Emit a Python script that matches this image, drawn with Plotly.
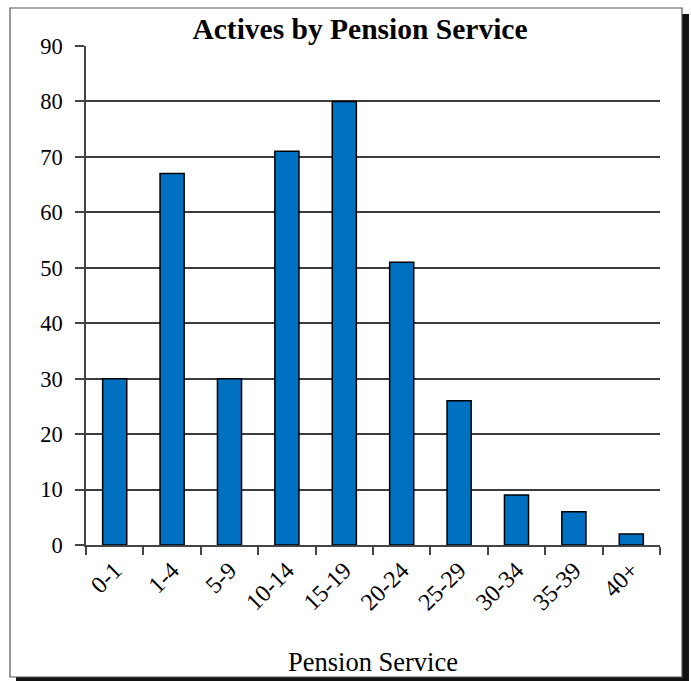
import plotly.graph_objects as go

categories = ["0-1", "1-4", "5-9", "10-14", "15-19", "20-24", "25-29", "30-34", "35-39", "40+"]
values = [30, 67, 30, 71, 80, 51, 26, 9, 6, 2]
y_ticks = [0, 10, 20, 30, 40, 50, 60, 70, 80, 90]

W, H = 691, 681
L, R, T, B = 86, 660, 46, 545
pw, ph = R - L, B - T

def px(x):
    return (x - L) / pw

def py(y):
    return (B - y) / ph

font = "Liberation Serif, Times New Roman, serif"

fig = go.Figure(go.Bar(
    x=categories, y=values,
    marker=dict(color="#0070C0", line=dict(color="#000000", width=1.5)),
    width=0.42,
))

fig.update_layout(
    width=W, height=H,
    margin=dict(l=L, r=W - R, t=T, b=H - B),
    paper_bgcolor="white",
    plot_bgcolor="#D9D9D9",
    showlegend=False,
    font=dict(family=font, color="#000000", size=22),
    title=dict(text="<b>Actives by Pension Service</b>", x=360 / W, xanchor="center",
               y=1 - 29 / H, yanchor="middle", yref="container",
               font=dict(family=font, size=29.5, color="#000000")),
    xaxis=dict(
        type="category", tickangle=-45, tickson="boundaries",
        ticks="outside", ticklen=8, tickcolor="#444", tickwidth=1.5,
        showline=True, linecolor="#444", linewidth=1.5,
        showgrid=False, automargin=False,
        title=dict(text="Pension Service", font=dict(size=26.5), standoff=38),
        tickfont=dict(size=24),
    ),
    yaxis=dict(
        range=[0, 90], tickvals=y_ticks, ticks="outside", ticklen=9,
        tickcolor="#444", tickwidth=1.5,
        showline=True, linecolor="#444", linewidth=1.5,
        showgrid=True, gridcolor="#3C3C3C", gridwidth=1.5,
        zeroline=False, ticklabelstandoff=8, automargin=False,
        tickfont=dict(size=22.5),
    ),
    shapes=[
        dict(type="rect", xref="paper", yref="paper", x0=0, x1=1, y0=0, y1=1,
             line=dict(color="#888", width=1.5), layer="below"),
        dict(type="rect", xref="paper", yref="paper",
             x0=px(16), x1=px(689), y0=py(681), y1=py(14),
             fillcolor="#111", line=dict(width=0), layer="below"),
        dict(type="rect", xref="paper", yref="paper",
             x0=px(10), x1=px(682), y0=py(677), y1=py(8),
             fillcolor="white", line=dict(color="#555", width=1.2), layer="below"),
    ],
)

fig.write_html("out.html")
